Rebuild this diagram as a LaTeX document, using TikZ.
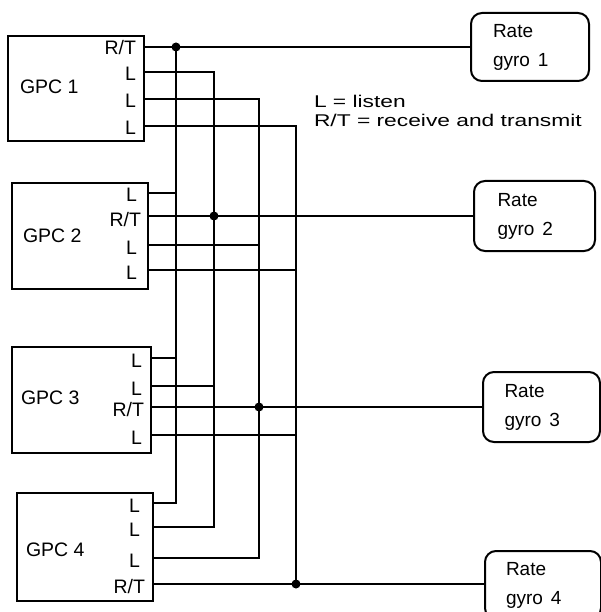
\documentclass[tikz,border=0pt]{standalone}
\usepackage{fontspec}
\usepackage{graphicx}
\setmainfont{Liberation Sans}
\newcommand\lblfont{\fontsize{19.5}{22}\selectfont}
\newcommand\gyrofont{\fontsize{19}{29}\selectfont}
\newcommand\legfont{\fontsize{17}{20}\selectfont}
\begin{document}
\begin{tikzpicture}[x=1pt,y=-1pt,line width=2pt,
  gpcbox/.style={draw,rectangle,anchor=north west,inner sep=0pt,minimum width=136pt},
  gyrobox/.style={draw,rectangle,rounded corners=11pt,anchor=north west,inner xsep=0pt,
    text width=74pt,align=left,font=\gyrofont},
  portlbl/.style={anchor=base east,inner sep=0pt,font=\lblfont},
  gpclbl/.style={anchor=base west,inner sep=0pt,font=\lblfont},
  leglbl/.style={anchor=base west,inner sep=0pt,font=\legfont},
  junction/.style={circle,fill,inner sep=0pt,minimum size=9pt}]
\useasboundingbox (0,0) rectangle (601,612);

% GPC boxes
\node[gpcbox,minimum height=105pt] (gpc1) at (7,35) {};
\node[gpcbox,minimum height=106pt] (gpc2) at (11,182) {};
\node[gpcbox,minimum width=139pt,minimum height=106pt] (gpc3) at (11,346) {};
\node[gpcbox,minimum height=108pt] (gpc4) at (16,492) {};

\node[gpclbl] (n1) at (19,94) {GPC 1};
\node[gpclbl] (n2) at (22,242) {GPC 2};
\node[gpclbl] (n3) at (20,404) {GPC 3};
\node[gpclbl] (n4) at (25,556) {GPC 4};

% rate gyros
\node[gyrobox,minimum width=118pt,minimum height=68pt] (gy1) at (470,12) {Rate\\gyro\hspace{8pt}1};
\node[gyrobox,minimum width=121pt,minimum height=70pt] (gy2) at (473,180) {Rate\\gyro\hspace{8pt}2};
\node[gyrobox,minimum width=117pt,minimum height=70pt] (gy3) at (482,371) {Rate\\gyro\hspace{8pt}3};
\node[gyrobox,minimum width=116pt,minimum height=68pt] (gy4) at (484,550) {Rate\\gyro\hspace{8pt}4};

% legend
\node[leglbl] (leg1) at (313,108) {\scalebox{1.34}[1]{L = listen}};
\node[leglbl] (leg2) at (313,127) {\scalebox{1.34}[1]{R/T = receive and transmit}};

% port coordinates
\coordinate (P11) at (143,47);  \coordinate (P12) at (143,72);
\coordinate (P13) at (143,99);  \coordinate (P14) at (143,126);
\coordinate (P21) at (147,193); \coordinate (P22) at (147,216);
\coordinate (P23) at (147,245); \coordinate (P24) at (147,270);
\coordinate (P31) at (150,358); \coordinate (P32) at (150,386);
\coordinate (P33) at (150,407); \coordinate (P34) at (150,435);
\coordinate (P41) at (152,503); \coordinate (P42) at (152,527);
\coordinate (P43) at (152,558); \coordinate (P44) at (152,584);

% port labels
\node[portlbl] (l11) at (137,55) {R/T};
\node[portlbl] (l12) at (137,81) {L};
\node[portlbl] (l13) at (137,108) {L};
\node[portlbl] (l14) at (137,135) {L};
\node[portlbl] (l21) at (138,202) {L};
\node[portlbl] (l22) at (142,226) {R/T};
\node[portlbl] (l23) at (138,254) {L};
\node[portlbl] (l24) at (138,279) {L};
\node[portlbl] (l31) at (143,367) {L};
\node[portlbl] (l32) at (143,395) {L};
\node[portlbl] (l33) at (145,416) {R/T};
\node[portlbl] (l34) at (143,444) {L};
\node[portlbl] (l41) at (141,512) {L};
\node[portlbl] (l42) at (141,536) {L};
\node[portlbl] (l43) at (141,567) {L};
\node[portlbl] (l44) at (146,593) {R/T};

% bus corners
\coordinate (T1) at (176,47);  \coordinate (B1) at (176,503);
\coordinate (T2) at (214,72);  \coordinate (B2) at (214,527);
\coordinate (T3) at (259,99);  \coordinate (B3) at (259,558);
\coordinate (T4) at (296,126); \coordinate (B4) at (296,584);

% buses
\draw (P11) -- (gy1.west |- P11);
\draw (T1) -- (B1) -- (P41);
\draw (P12) -- (T2) -- (B2) -- (P42);
\draw (P13) -- (T3) -- (B3) -- (P43);
\draw (P14) -- (T4) -- (B4);
\draw (P44) -- (gy4.west |- P44);

% GPC 2
\draw (P21) -- (P21 -| T1);
\draw (P22) -- (gy2.west |- P22);
\draw (P23) -- (P23 -| T3);
\draw (P24) -- (P24 -| T4);

% GPC 3
\draw (P31) -- (P31 -| T1);
\draw (P32) -- (P32 -| T2);
\draw (P33) -- (gy3.west |- P33);
\draw (P34) -- (P34 -| T4);

% junction dots
\node[junction] (d1) at (T1) {};
\node[junction] (d2) at (P22 -| T2) {};
\node[junction] (d3) at (P33 -| T3) {};
\node[junction] (d4) at (B4) {};
\end{tikzpicture}
\end{document}
